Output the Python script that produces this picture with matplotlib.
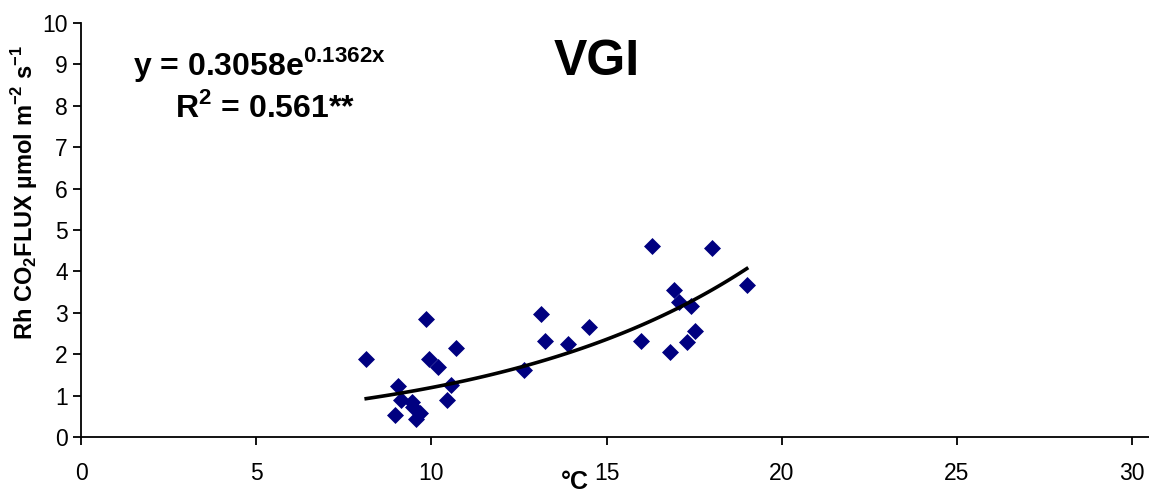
import matplotlib
matplotlib.use("Agg")
import matplotlib.pyplot as plt
import numpy as np

plt.rcParams['font.family'] = ['Liberation Sans', 'DejaVu Sans']
plt.rcParams['mathtext.fontset'] = 'custom'
plt.rcParams['mathtext.rm'] = 'Liberation Sans'
plt.rcParams['mathtext.bf'] = 'Liberation Sans:bold'

# soil temperature (°C) and heterotrophic CO2 flux
temp = [8.14, 9.84, 9.94, 10.18, 10.71, 9.06, 9.13, 9.46, 9.47, 8.96,
        9.68, 9.57, 10.56, 10.44, 12.63, 13.13, 13.25, 13.90, 14.50, 15.99,
        16.29, 16.80, 16.91, 17.06, 17.40, 17.29, 17.53, 18.01, 19.00]
flux = [1.88, 2.84, 1.88, 1.70, 2.14, 1.23, 0.89, 0.85, 0.73, 0.52,
        0.57, 0.43, 1.26, 0.89, 1.63, 2.98, 2.33, 2.25, 2.66, 2.33,
        4.61, 2.05, 3.54, 3.27, 3.16, 2.29, 2.56, 4.56, 3.68]

a, b = 0.3058, 0.1362

fig = plt.figure(figsize=(11.49, 4.92), dpi=100)
ax = fig.add_axes([81/1149, 55/492, 1 - 81/1149, (437-23)/492])

ax.scatter(temp, flux, marker='D', s=75, color='#000080', zorder=3, linewidths=0)
xs = np.linspace(min(temp), max(temp), 100)
ax.plot(xs, a*np.exp(b*xs), color='black', lw=2.6, zorder=4)

ax.set_xlim(0, 30.48)
ax.set_ylim(0, 10)
ax.set_xticks(range(0, 31, 5))
ax.set_yticks(range(0, 11))
for s in ['top', 'right']:
    ax.spines[s].set_visible(False)
for s in ['left', 'bottom']:
    ax.spines[s].set_linewidth(1.3)
ax.tick_params(direction='out', length=6, width=1.3, labelsize=16.5)
ax.tick_params(axis='x', pad=12)

ax.set_ylabel(r'Rh CO$_\mathbf{2}$FLUX µmol m$^\mathbf{-2}$ s$^\mathbf{-1}$',
              fontsize=17, fontweight='bold')
ax.yaxis.set_label_coords(-0.038, 0.59)
fig.text(575/1149, 1 - 482/492, '°C', fontsize=18, fontweight='bold',
         ha='center', va='center')

fig.text(133/1149, 1 - 64/492, r'y = 0.3058e$^\mathbf{0.1362x}$', fontsize=23,
         fontweight='bold', va='center', ha='left')
fig.text(175/1149, 1 - 108/492, r'R$^\mathbf{2}$ = 0.561**', fontsize=23,
         fontweight='bold', va='center', ha='left')
fig.text(597/1149, 1 - 62/492, 'VGI', fontsize=36, fontweight='bold',
         va='center', ha='center')

fig.savefig('out.png', dpi=100)
